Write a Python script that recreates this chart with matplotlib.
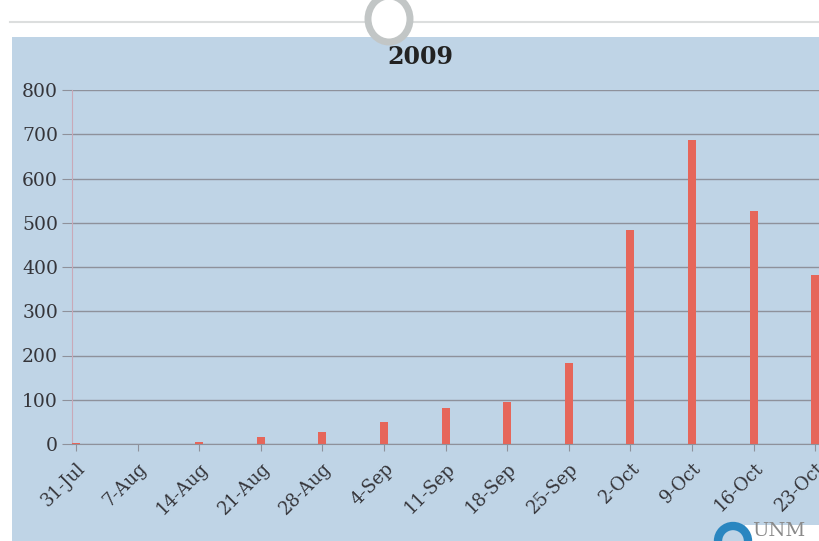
import numpy as np
import matplotlib
matplotlib.use('Agg')
import matplotlib.pyplot as plt
from matplotlib.patches import Rectangle, Ellipse

# Casos semanales, 2009
dates = ['31-Jul', '7-Aug', '14-Aug', '21-Aug', '28-Aug', '4-Sep', '11-Sep',
         '18-Sep', '25-Sep', '2-Oct', '9-Oct', '16-Oct', '23-Oct']
cases = [2, 0, 5, 16, 27, 49, 81, 94, 184, 483, 686, 526, 383]
yticks = [0, 100, 200, 300, 400, 500, 600, 700, 800]

W, H = 819, 541
fig = plt.figure(figsize=(W / 100, H / 100), dpi=100)
fig.patch.set_facecolor('white')

panel = '#bfd4e6'
grid = '#8e919b'
red = '#e6665a'
txt = '#35353a'

# fondo azul de la diapositiva
fig.add_artist(Rectangle((12 / W, 0), 1, (H - 37) / H, transform=fig.transFigure,
                         facecolor=panel, edgecolor='none', zorder=0))
# línea gris superior y anillo
fig.add_artist(plt.Line2D([10 / W, 1], [(H - 22) / H] * 2, transform=fig.transFigure,
                          color='#dcdede', lw=1.5, zorder=1))
fig.add_artist(Ellipse((389 / W, (H - 19) / H), 42 / W, 46 / H, transform=fig.transFigure,
                       facecolor='white', edgecolor='#c2c6c6', lw=5, zorder=2))

ax = fig.add_axes([72 / W, 97 / H, (W - 72) / W, 354 / H])
ax.set_facecolor('none')
x = np.arange(len(dates))
ax.bar(x, cases, width=0.13, color=red, zorder=3)

ax.set_ylim(0, 800)
ax.set_xlim(-0.065, 12.06)
ax.set_yticks(yticks)
ax.set_yticklabels([str(v) for v in yticks], family='DejaVu Serif', fontsize=13.5,
                   color=txt)
ax.yaxis.grid(True, color=grid, lw=1.0)
ax.set_axisbelow(True)
ax.set_xticks(x)
ax.set_xticklabels(dates, rotation=45, ha='right', rotation_mode='anchor',
                   family='DejaVu Serif', fontsize=13, color=txt)
ax.tick_params(axis='y', length=7, color=grid, pad=3)
ax.tick_params(axis='x', length=5, color=grid, pad=6)
for s in ['top', 'right']:
    ax.spines[s].set_visible(False)
ax.spines['left'].set_color('#c9a9b8')
ax.spines['bottom'].set_color(grid)

fig.text(420 / W, (H - 57) / H, '2009', ha='center', va='center',
         family='DejaVu Serif', fontweight='bold', fontsize=17, color='#222')

# logo parcial en la esquina
fig.add_artist(Rectangle((745 / W, 0), 1, 16 / H, transform=fig.transFigure,
                         facecolor='white', edgecolor='none', zorder=4))
fig.add_artist(Ellipse((733 / W, 0), 30 / W, 30 / H, transform=fig.transFigure,
                       facecolor='none', edgecolor='#2a86c0', lw=6, zorder=5))
fig.text(752 / W, 1 / H, 'UNM', family='DejaVu Serif', fontsize=14, color='#8a8a8a',
         ha='left', va='bottom', zorder=6)

fig.savefig('out.png', dpi=100, facecolor=fig.get_facecolor())
